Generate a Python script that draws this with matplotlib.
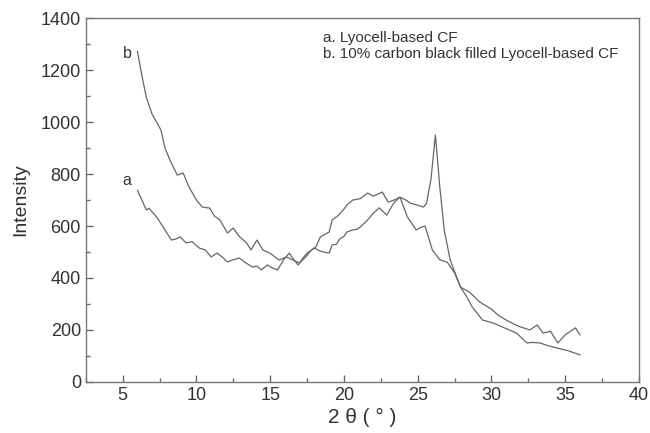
import numpy as np
import matplotlib.pyplot as plt

plt.rcParams['font.family'] = ['Liberation Sans', 'DejaVu Sans']

# curve a: Lyocell-based CF
a_x = [6.0, 6.3, 6.6, 6.8, 7.0, 7.3, 7.7, 8.0, 8.3, 8.6, 8.9, 9.3, 9.7, 10.2, 10.6,
       11.0, 11.4, 11.8, 12.1, 12.5, 12.9, 13.3, 13.8, 14.1, 14.4, 14.8, 15.1,
       15.5, 15.9, 16.3, 16.6, 16.9, 17.2, 17.5, 18.0, 18.3, 18.6, 19.0, 19.2,
       19.5, 19.7, 20.0, 20.2, 20.6, 20.9, 21.1, 21.4, 21.6, 22.0, 22.4, 22.9,
       23.4, 23.8, 24.3, 24.6, 24.9, 25.2, 25.5, 26.0, 26.5, 27.0, 27.5, 27.9,
       28.3, 28.7, 29.4, 30.1, 30.6, 31.0, 31.7, 32.4, 32.8, 33.3, 33.8, 34.4,
       35.2, 36.0]
a_y = [738, 700, 662, 668, 654, 635, 600, 573, 546, 550, 558, 535, 540, 515, 508,
       481, 496, 478, 462, 470, 477, 460, 442, 446, 431, 450, 440,
       431, 469, 496, 470, 450, 475, 496, 515, 506, 500, 496, 527,
       530, 550, 560, 577, 585, 588, 596, 612, 623, 650, 670, 642,
       690, 711, 635, 610, 585, 595, 600, 507, 470, 461, 420, 365,
       330, 288, 238, 227, 215, 205, 188, 150, 152, 150, 140, 131,
       120, 104]

# curve b: 10% carbon black filled Lyocell-based CF
b_x = [6.0, 6.3, 6.6, 7.0, 7.3, 7.6, 7.85, 8.2, 8.7, 9.1, 9.5, 10.0, 10.4, 10.9,
       11.2, 11.6, 12.1, 12.5, 12.9, 13.4, 13.7, 14.1, 14.5, 15.0, 15.3, 15.6,
       16.1, 16.5, 17.0, 17.4, 17.8, 18.1, 18.4, 19.0, 19.2, 19.6, 20.0, 20.2,
       20.6, 21.1, 21.6, 22.0, 22.6, 23.0, 23.4, 23.8, 24.2, 24.5, 25.0, 25.4,
       25.6, 25.9, 26.2, 26.5, 26.8, 27.2, 27.9, 28.5, 28.8, 29.2, 30.0, 30.5,
       31.0, 31.8, 32.6, 33.1, 33.5, 34.0, 34.5, 35.0, 35.7, 36.0]
b_y = [1273, 1180, 1096, 1030, 1000, 969, 904, 854, 796, 804, 750, 700, 673, 669,
       640, 623, 573, 592, 560, 535, 508, 546, 508, 495, 482, 469,
       481, 470, 458, 480, 508, 520, 558, 577, 623, 640, 665, 681,
       700, 705, 727, 715, 731, 692, 700, 711, 700, 688, 680, 673,
       688, 780, 950, 750, 585, 470, 365, 346, 330, 308, 280, 255,
       238, 215, 200, 219, 188, 195, 150, 181, 208, 181]

legend_lines = ['a. Lyocell-based CF', 'b. 10% carbon black filled Lyocell-based CF']

fig = plt.figure(figsize=(6.5, 4.33), dpi=100)
ax = fig.add_axes([0.132, 0.118, 0.851, 0.840])

ax.plot(a_x, a_y, color='#666666', lw=0.9)
ax.plot(b_x, b_y, color='#666666', lw=0.9)

ax.text(5.3, 777, 'a', fontsize=11.5, ha='center', va='center', color='#333333')
ax.text(5.3, 1265, 'b', fontsize=11.5, ha='center', va='center', color='#333333')
ax.text(0.428, 0.965, legend_lines[0] + '\n' + legend_lines[1], transform=ax.transAxes,
        fontsize=11, va='top', ha='left', color='#333333', linespacing=1.15)

ax.set_xlim(2.5, 40)
ax.set_ylim(0, 1400)
ax.set_xticks(np.arange(5, 41, 5))
ax.set_xticks(np.arange(2.5, 40.1, 2.5), minor=True)
ax.set_yticks(np.arange(0, 1401, 200))
ax.set_yticks(np.arange(0, 1401, 100), minor=True)

ax.tick_params(which='major', direction='in', length=5, width=1, labelsize=13,
               colors='#666666', labelcolor='#333333')
ax.tick_params(which='minor', direction='in', length=3, width=1, colors='#666666')
for sp in ax.spines.values():
    sp.set_color('#777777')
    sp.set_linewidth(1.0)

ax.set_ylabel('Intensity', fontsize=14, color='#333333', labelpad=8)
ax.set_xlabel('2 θ ( ° )', fontsize=15, color='#333333', labelpad=3)

fig.savefig('out.png', dpi=100)
